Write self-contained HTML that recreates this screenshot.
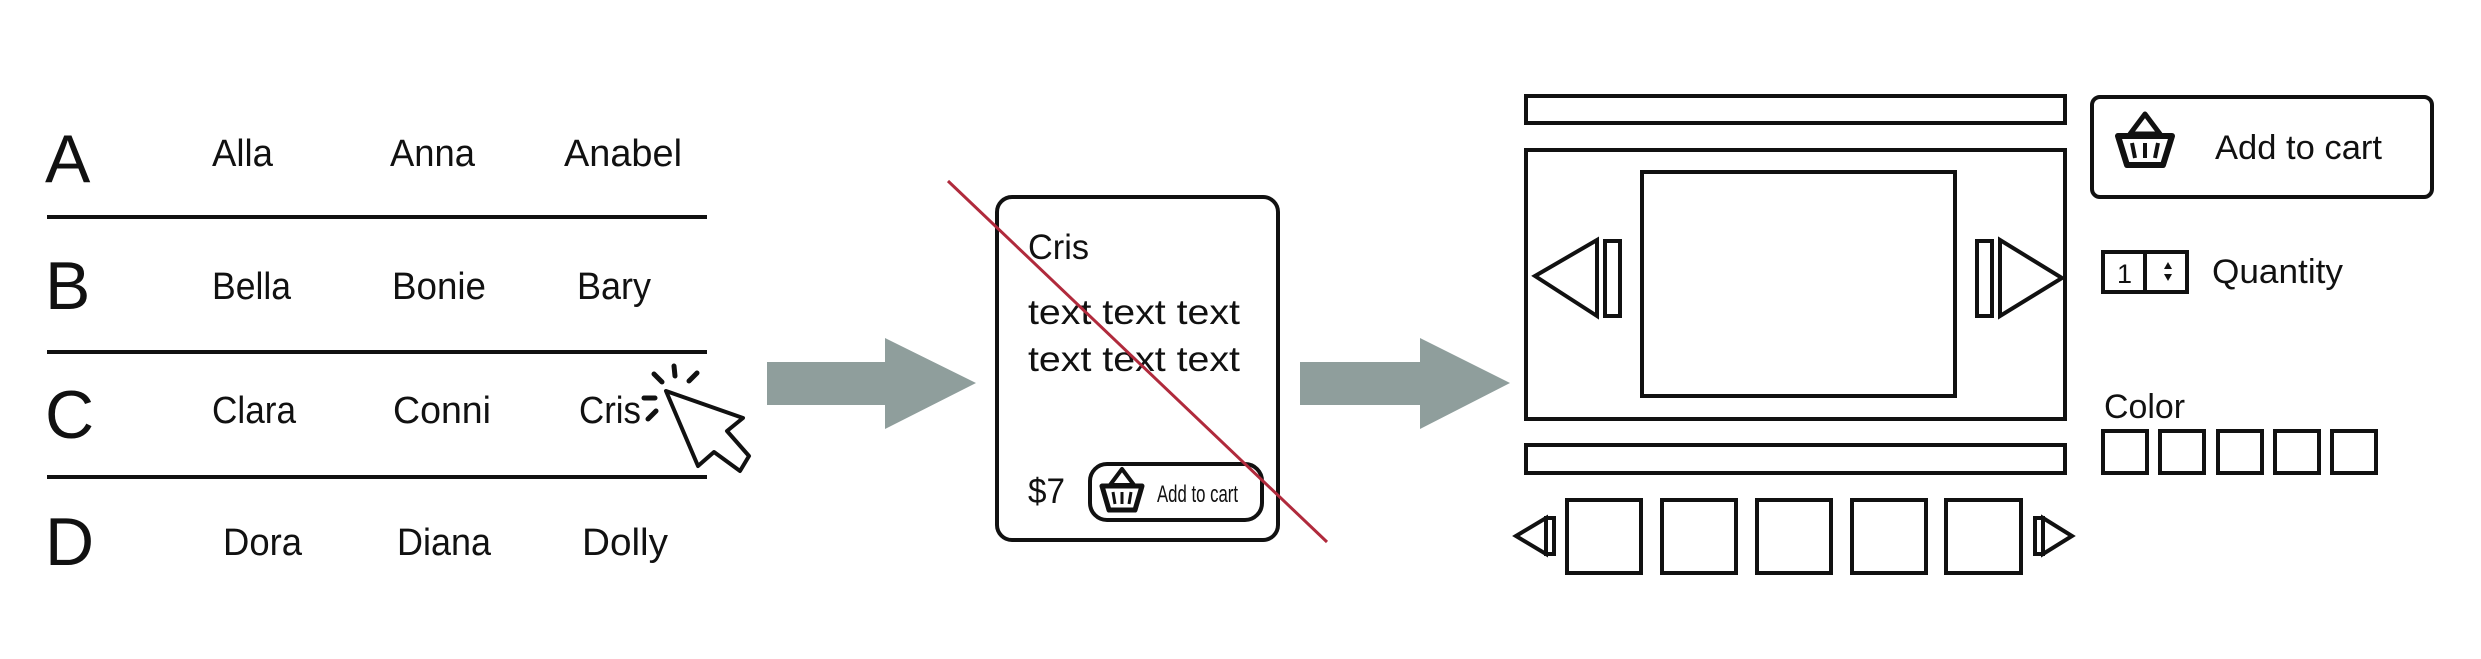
<!DOCTYPE html>
<html><head><meta charset="utf-8"><style>
html,body{margin:0;padding:0;background:#fff;}
svg{display:block;}
text{font-family:"Liberation Sans",sans-serif;fill:#111;}
</style></head><body>
<svg width="2481" height="659" viewBox="0 0 2481 659" xmlns="http://www.w3.org/2000/svg">
<rect width="2481" height="659" fill="#fff"/>
<!-- left list -->
<g font-size="68">
<text x="45" y="182">A</text><text x="45" y="309">B</text><text x="45" y="438">C</text><text x="45" y="565">D</text>
</g>
<g font-size="38">
<text x="212" y="166" textLength="61" lengthAdjust="spacingAndGlyphs">Alla</text>
<text x="390" y="166" textLength="85" lengthAdjust="spacingAndGlyphs">Anna</text>
<text x="564" y="166" textLength="118" lengthAdjust="spacingAndGlyphs">Anabel</text>
<text x="212" y="299" textLength="79" lengthAdjust="spacingAndGlyphs">Bella</text>
<text x="392" y="299" textLength="94" lengthAdjust="spacingAndGlyphs">Bonie</text>
<text x="577" y="299" textLength="74" lengthAdjust="spacingAndGlyphs">Bary</text>
<text x="212" y="423" textLength="84" lengthAdjust="spacingAndGlyphs">Clara</text>
<text x="393" y="423" textLength="98" lengthAdjust="spacingAndGlyphs">Conni</text>
<text x="579" y="423" textLength="62" lengthAdjust="spacingAndGlyphs">Cris</text>
<text x="223" y="555" textLength="79" lengthAdjust="spacingAndGlyphs">Dora</text>
<text x="397" y="555" textLength="94" lengthAdjust="spacingAndGlyphs">Diana</text>
<text x="582" y="555" textLength="86" lengthAdjust="spacingAndGlyphs">Dolly</text>
</g>
<g stroke="#111" stroke-width="4">
<line x1="47" y1="217" x2="707" y2="217"/><line x1="47" y1="352" x2="707" y2="352"/><line x1="47" y1="477" x2="707" y2="477"/>
</g>
<!-- cursor -->
<g fill="none" stroke="#111" stroke-linejoin="round" stroke-linecap="round">
<path d="M666,391 L743,418 L727,431 L749,456 L740,471 L714,452 L698,466 Z" fill="#fff" stroke-width="4"/>
<line x1="674" y1="366" x2="675" y2="376" stroke-width="5"/>
<line x1="654" y1="374" x2="662" y2="382" stroke-width="5"/>
<line x1="697" y1="373" x2="689" y2="381" stroke-width="5"/>
<line x1="644" y1="398" x2="655" y2="398" stroke-width="5"/>
<line x1="648" y1="419" x2="656" y2="411" stroke-width="5"/>
</g>
<!-- arrows -->
<polygon points="767,362 885,362 885,338 976,383 885,429 885,405 767,405" fill="#8f9e9c"/>
<polygon points="1300,362 1420,362 1420,338 1510,383 1420,429 1420,405 1300,405" fill="#8f9e9c"/>
<!-- card -->
<rect x="997" y="197" width="281" height="343" rx="15" fill="none" stroke="#111" stroke-width="4"/>
<g font-size="35">
<text x="1028" y="259" textLength="61" lengthAdjust="spacingAndGlyphs">Cris</text>
<text x="1028" y="324" textLength="212" lengthAdjust="spacingAndGlyphs">text text text</text>
<text x="1028" y="371" textLength="212" lengthAdjust="spacingAndGlyphs">text text text</text>
<text x="1028" y="503" textLength="37" lengthAdjust="spacingAndGlyphs">$7</text>
</g>
<rect x="1090" y="464" width="172" height="56" rx="17" fill="none" stroke="#111" stroke-width="4"/>
<g fill="none" stroke="#111" stroke-linejoin="round">
<path d="M1122,469 L1110,485 L1134,485 Z" stroke-width="4"/>
<path d="M1102,486 L1142,486 L1135,510 L1109,510 Z" stroke-width="5"/>
<line x1="1113" y1="492" x2="1115" y2="504" stroke-width="3"/><line x1="1122" y1="492" x2="1122" y2="504" stroke-width="3"/><line x1="1131" y1="492" x2="1129" y2="504" stroke-width="3"/>
</g>
<text x="1157" y="502" font-size="24" textLength="81" lengthAdjust="spacingAndGlyphs">Add to cart</text>
<line x1="948" y1="181" x2="1327" y2="542" stroke="#b02a3c" stroke-width="3"/>
<!-- right layout -->
<g fill="none" stroke="#111" stroke-width="4">
<rect x="1526" y="96" width="539" height="27"/>
<rect x="1526" y="150" width="539" height="269"/>
<rect x="1642" y="172" width="313" height="224"/>
<polygon points="1535,276 1597,240 1597,316"/>
<rect x="1605" y="241" width="15" height="75"/>
<rect x="1977" y="241" width="15" height="75"/>
<polygon points="2000,240 2000,316 2062,278"/>
<rect x="1526" y="445" width="539" height="28"/>
<rect x="1567" y="500" width="74" height="73"/><rect x="1662" y="500" width="74" height="73"/>
<rect x="1757" y="500" width="74" height="73"/><rect x="1852" y="500" width="74" height="73"/>
<rect x="1946" y="500" width="75" height="73"/>
<polygon points="1516,536 1546,518 1546,554"/><rect x="1546" y="518" width="8" height="36"/>
<rect x="2035" y="518" width="8" height="36"/><polygon points="2043,518 2043,554 2072,536"/>
<rect x="2092" y="97" width="340" height="100" rx="8"/>
<rect x="2103" y="252" width="84" height="40"/><line x1="2145" y1="252" x2="2145" y2="292"/>
<rect x="2103" y="431" width="44" height="42"/><rect x="2160" y="431" width="44" height="42"/>
<rect x="2218" y="431" width="44" height="42"/><rect x="2275" y="431" width="44" height="42"/>
<rect x="2332" y="431" width="44" height="42"/>
</g>
<g fill="none" stroke="#111" stroke-linejoin="round">
<path d="M2145,114 L2130,134 L2160,134 Z" stroke-width="5"/>
<path d="M2118,136 L2172,136 L2163,165 L2127,165 Z" stroke-width="6"/>
<line x1="2132" y1="143" x2="2135" y2="158" stroke-width="4"/><line x1="2145" y1="143" x2="2145" y2="158" stroke-width="4"/><line x1="2158" y1="143" x2="2155" y2="158" stroke-width="4"/>
</g>
<text x="2215" y="159" font-size="34" textLength="167" lengthAdjust="spacingAndGlyphs">Add to cart</text>
<text x="2117" y="283" font-size="27">1</text>
<polygon points="2168,262 2164,269 2172,269" fill="#111"/><polygon points="2168,281 2164,274 2172,274" fill="#111"/>
<text x="2212" y="283" font-size="34" textLength="131" lengthAdjust="spacingAndGlyphs">Quantity</text>
<text x="2104" y="418" font-size="34" textLength="81" lengthAdjust="spacingAndGlyphs">Color</text>
</svg>
</body></html>
